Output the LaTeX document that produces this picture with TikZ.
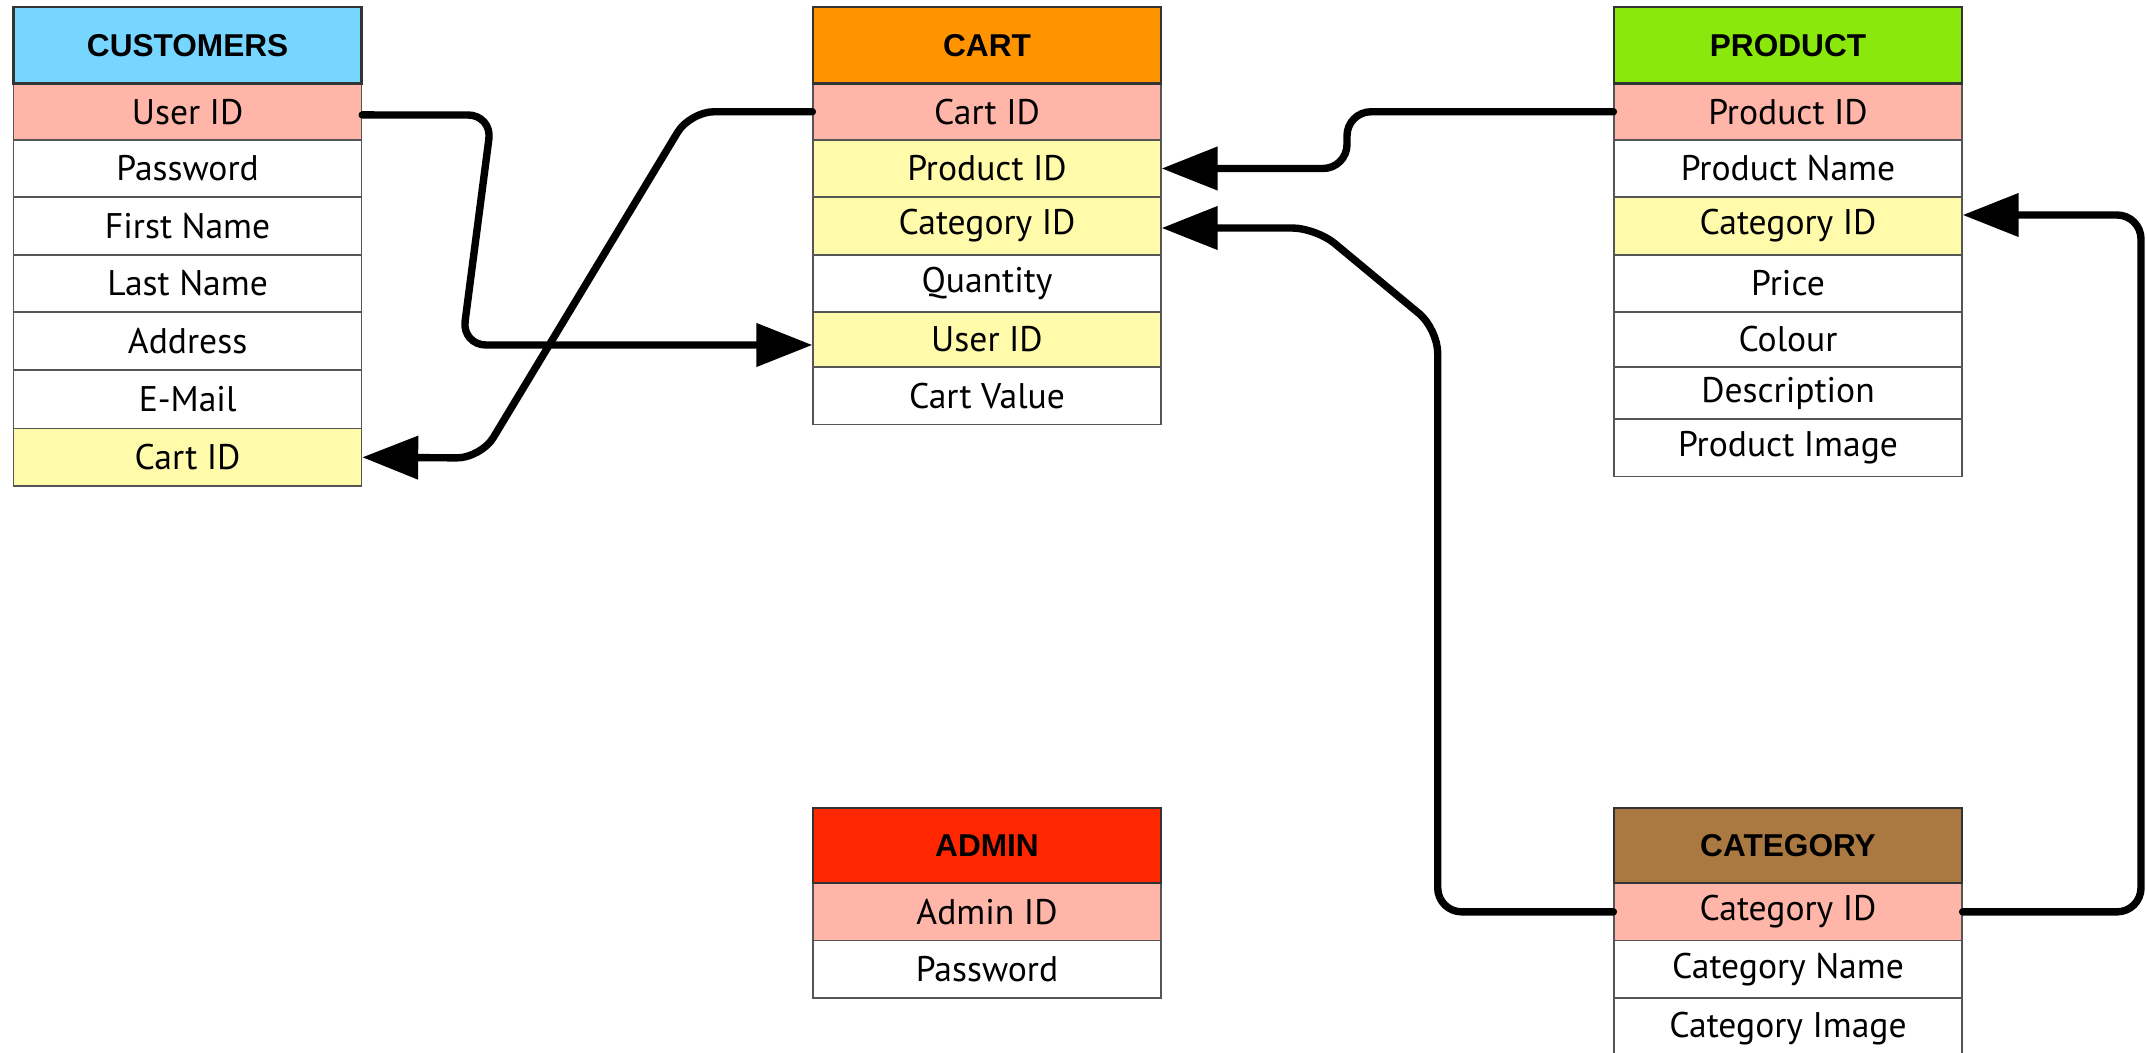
\documentclass[tikz,border=0pt]{standalone}
\usepackage{fontspec}
\setmainfont{PT Sans}
\newfontfamily\hdrfont{Liberation Sans}
\usetikzlibrary{arrows.meta}
\definecolor{custhdr}{HTML}{76D6FF}
\definecolor{carthdr}{HTML}{FF9300}
\definecolor{prodhdr}{HTML}{8AE80C}
\definecolor{adminhdr}{HTML}{FF2600}
\definecolor{cathdr}{HTML}{AA7942}
\definecolor{pkrow}{HTML}{FFB5A8}
\definecolor{fkrow}{HTML}{FFFBAA}
\definecolor{rowline}{HTML}{555555}
\definecolor{hdrline}{HTML}{333333}
\tikzset{
  rowbox/.style={draw=rowline, line width=0.6pt, minimum width=174pt, inner sep=0pt,
    font=\fontsize{17.8}{19}\selectfont, text=black},
  hdrbox/.style={draw=hdrline, line width=1.2pt, minimum width=174pt, minimum height=38pt,
    inner sep=0pt, font=\hdrfont\bfseries\fontsize{15.8}{18}\selectfont, text=black},
  link/.style={line width=3.7pt, line cap=round, line join=round, rounded corners=12pt,
    -{Triangle[length=28pt,width=21pt]}}
}
% name, cx, top, bottom, fill, text
\newcommand\erow[6]{%
  \node[rowbox, fill=#5, minimum height={(#4-#3)*0.5pt}] (#1) at (#2,{(#3+#4)/2}) {#6};}
% name, cx, top, bottom, fill, text
\newcommand\ehdr[6]{%
  \node[hdrbox, fill=#5, minimum height={(#4-#3)*0.5pt}] (#1) at (#2,{(#3+#4)/2}) {#6};}
\begin{document}
\begin{tikzpicture}[x=0.5pt,y=-0.5pt]
\useasboundingbox[fill=white] (0,0) rectangle (2147,1053);
% CUSTOMERS
\erow{cu1}{187.6}{83.5}{140}{pkrow}{User ID}
\erow{cu2}{187.6}{140}{197}{white}{Password}
\erow{cu3}{187.6}{197}{255}{white}{First Name}
\erow{cu4}{187.6}{255}{312}{white}{Last Name}
\erow{cu5}{187.6}{312}{370}{white}{Address}
\erow{cu6}{187.6}{370}{428.6}{white}{E-Mail}
\erow{cu7}{187.6}{428.6}{486}{fkrow}{Cart ID}
\ehdr{cuh}{187.6}{7}{83.5}{custhdr}{CUSTOMERS}
% CART
\erow{ca1}{987}{83.5}{140}{pkrow}{Cart ID}
\erow{ca2}{987}{140}{197}{fkrow}{Product ID}
\erow{ca3}{987}{197}{255}{fkrow}{Category ID}
\erow{ca4}{987}{255}{312}{white}{Quantity}
\erow{ca5}{987}{312}{367}{fkrow}{User ID}
\erow{ca6}{987}{367}{424.5}{white}{Cart Value}
\ehdr{cah}{987}{7}{83.5}{carthdr}{CART}
% PRODUCT
\erow{pr1}{1788}{83.5}{140}{pkrow}{Product ID}
\erow{pr2}{1788}{140}{197}{white}{Product Name}
\erow{pr3}{1788}{197}{255}{fkrow}{Category ID}
\erow{pr4}{1788}{255}{312}{white}{Price}
\erow{pr5}{1788}{312}{367}{white}{Colour}
\erow{pr6}{1788}{367}{419}{white}{Description}
\erow{pr7}{1788}{419}{476.5}{white}{Product Image}
\ehdr{prh}{1788}{7}{83.5}{prodhdr}{PRODUCT}
% ADMIN
\erow{ad1}{987}{883}{940.7}{pkrow}{Admin ID}
\erow{ad2}{987}{940.7}{998}{white}{Password}
\ehdr{adh}{987}{808}{883}{adminhdr}{ADMIN}
% CATEGORY
\erow{ct1}{1788}{883}{940.7}{pkrow}{Category ID}
\erow{ct2}{1788}{940.7}{998}{white}{Category Name}
\erow{ct3}{1788}{998}{1060}{white}{Category Image}
\ehdr{cth}{1788}{808}{883}{cathdr}{CATEGORY}
% connectors
\draw[link] ([yshift=-1.6pt]cu1.east) -- (492,115) -- (462,345) -- ([yshift=-2.75pt]ca5.west);
\draw[link] (ca1.west) -- (690,111.75) -- (481,458) -- (cu7.east);
\draw[link] (pr1.west) -- (1347,111.75) -- (1347,168.5) -- (ca2.east);
\draw[link] (ct1.west) -- (1437.7,911.85) -- (1437.7,329) -- (1316,228) -- ([yshift=-1pt]ca3.east);
\draw[link] (ct1.east) -- (2141,911.85) -- (2141,215) -- ([yshift=5.5pt]pr3.east);
\end{tikzpicture}
\end{document}
